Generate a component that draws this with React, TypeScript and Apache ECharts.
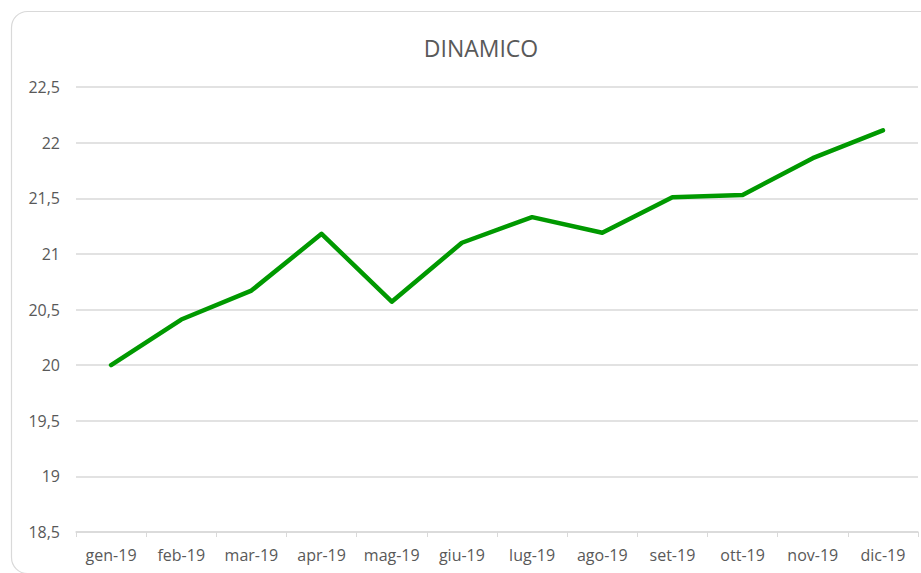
import React, { useEffect, useRef } from "react";
import * as echarts from "echarts";

const categories = ["gen-19", "feb-19", "mar-19", "apr-19", "mag-19", "giu-19", "lug-19", "ago-19", "set-19", "ott-19", "nov-19", "dic-19"];
const values = [20.0, 20.41, 20.67, 21.18, 20.57, 21.1, 21.33, 21.19, 21.51, 21.53, 21.86, 22.11];
const titleText = "DINAMICO";

export default function App() {
  const ref = useRef<HTMLDivElement>(null);
  useEffect(() => {
    if (!ref.current) return;
    const chart = echarts.init(ref.current, null, { renderer: "svg" });
    const font = "'Open Sans', 'Noto Sans', sans-serif";
    chart.setOption({
      animation: false,
      backgroundColor: "#ffffff",
      title: {
        text: titleText,
        left: 476,
        top: 31,
        textAlign: "center",
        textStyle: { fontFamily: font, fontSize: 23, fontWeight: "normal", color: "#595959" },
      },
      graphic: [
        {
          type: "rect",
          shape: { x: 11.5, y: 11.5, width: 940, height: 562, r: 16 },
          style: { fill: "none", stroke: "#d9d9d9", lineWidth: 1.2 },
          silent: true,
          z: 0,
        },
      ],
      grid: { left: 76, right: 3, top: 87, bottom: 41, containLabel: false },
      xAxis: {
        type: "category",
        data: categories,
        boundaryGap: true,
        axisLine: { show: true, lineStyle: { color: "#d9d9d9", width: 1.5 } },
        axisTick: { show: true, length: 5, alignWithLabel: false, lineStyle: { color: "#d9d9d9" } },
        axisLabel: { fontFamily: font, fontSize: 16, color: "#595959", margin: 15, interval: 0 },
        splitLine: { show: false },
      },
      yAxis: {
        type: "value",
        min: 18.5,
        max: 22.5,
        interval: 0.5,
        axisLine: { show: false },
        axisTick: { show: false },
        axisLabel: {
          fontFamily: font,
          fontSize: 16,
          color: "#595959",
          margin: 16,
          formatter: (v: number) => String(v).replace(".", ","),
        },
        splitLine: { show: true, lineStyle: { color: "#d9d9d9", width: 1.5 } },
      },
      series: [
        {
          type: "line",
          data: values,
          showSymbol: false,
          symbol: "none",
          lineStyle: { color: "#009900", width: 4.5, cap: "round", join: "round" },
          itemStyle: { color: "#009900" },
        },
      ],
    });
    return () => chart.dispose();
  }, []);
  return (
    <div
      ref={ref}
      style={{ position: "fixed", left: 0, top: 0, width: 921, height: 573 }}
    />
  );
}
